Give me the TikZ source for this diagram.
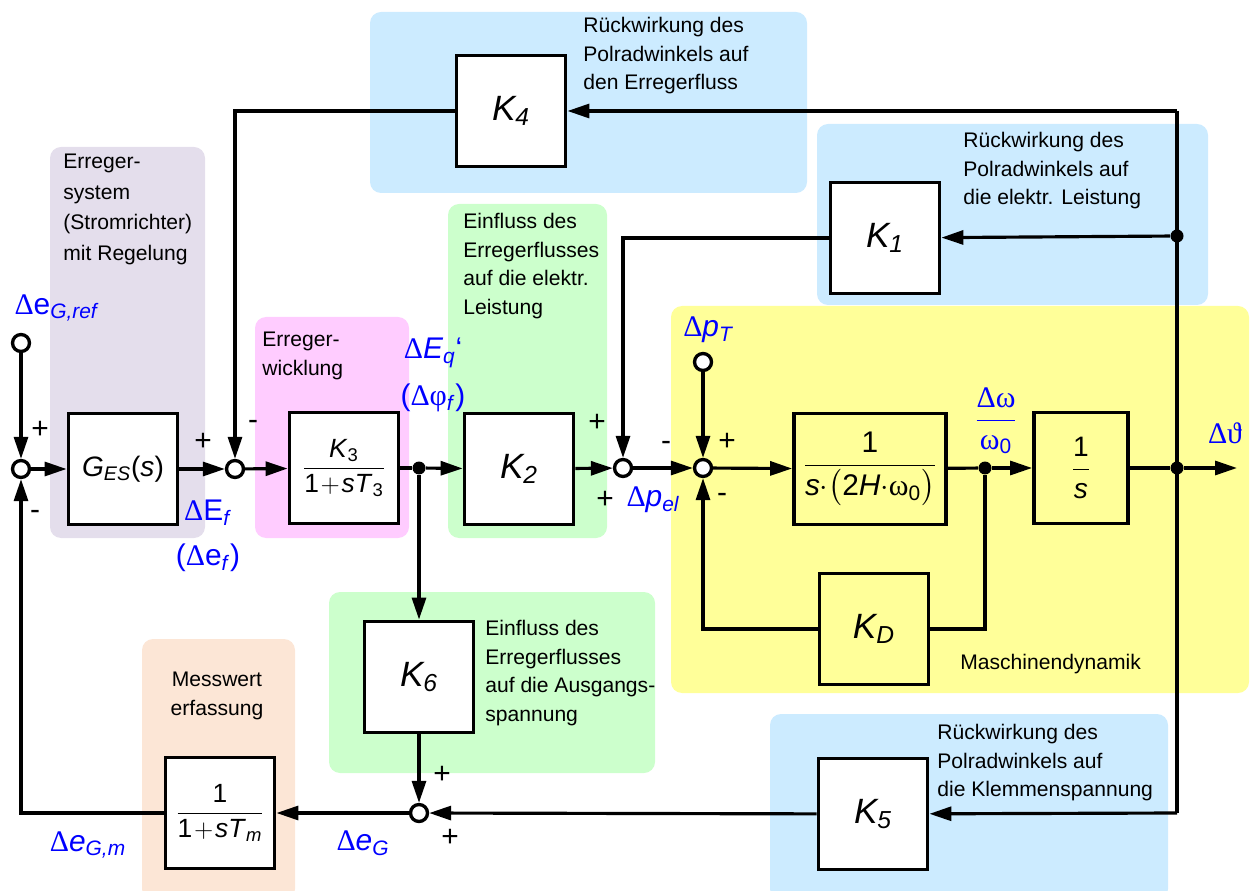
\documentclass[tikz,border=0pt]{standalone}
\usepackage{fontspec}
\setmainfont{Liberation Sans}
\newfontfamily\grk{Liberation Serif}
\usepackage{amsmath}
\usetikzlibrary{arrows.meta}

\definecolor{greybg}{RGB}{228,222,236}
\definecolor{pinkbg}{RGB}{255,204,255}
\definecolor{greenbg}{RGB}{204,255,204}
\definecolor{bluebg}{RGB}{204,235,255}
\definecolor{yellowbg}{RGB}{255,255,153}
\definecolor{peachbg}{RGB}{252,230,214}
\definecolor{sigblue}{RGB}{0,0,255}

\tikzstyle{block} = [
rectangle,
minimum width=2.18cm,
minimum height=2.22cm,
draw=black,
line width=2.2pt,
fill=white,
font=\fontsize{20}{24}\selectfont
]
\tikzstyle{sum} = [
circle,
minimum size=0.34cm,
inner sep=0pt,
draw=black,
line width=1.9pt,
fill=white
]
\tikzstyle{dot} = [
circle,
minimum size=0.26cm,
inner sep=0pt,
fill=black
]
\tikzstyle{arrow} = [
line width=1.8pt,
->,
>={Triangle[length=0.44cm,width=0.28cm]}
]
\tikzstyle{line} = [
line width=1.8pt
]
\tikzstyle{note} = [
align=left,
inner sep=0pt,
anchor=north west,
font=\fontsize{12}{16.2}\selectfont
]
\tikzstyle{signal} = [
text=sigblue,
inner sep=0pt,
font=\fontsize{17}{20}\selectfont
]
\tikzstyle{sign} = [
inner sep=0pt,
font=\fontsize{17}{20}\selectfont
]
\tikzstyle{area} = [
rounded corners=0.22cm
]

\begin{document}
\begin{tikzpicture}[
x=0.02cm,
y=-0.02cm
]
\useasboundingbox (0,0) rectangle (1250,891);

% Areas
\fill [area, greybg] (50,147) rectangle (205,538);
\fill [area, pinkbg] (255,317) rectangle (409,538);
\fill [area, greenbg] (448,204) rectangle (607,538);
\fill [area, bluebg] (370,12) rectangle (807,193);
\fill [area, bluebg] (817,124) rectangle (1208,305);
\fill [area, yellowbg] (671,306) rectangle (1249,693);
\fill [area, greenbg] (329,592) rectangle (655,773);
\fill [area, peachbg] (142,639) rectangle (295,900);
\fill [area, bluebg] (770,714) rectangle (1168,900);

% Nodes
\node (ref) [sum] at (21,343) {};
\node (s1) [sum] at (21,469) {};
\node (ges) [block, font=\fontsize{16}{19}\selectfont] at (123,469)
{\textit{G\textsubscript{ES}}(\textit{s})};
\node (s2) [sum] at (235,469) {};
\node (k3) [block, font=\fontsize{15}{18}\selectfont] at (344,468)
{$\displaystyle\frac{\mbox{\textit{K}\textsubscript{3}}}{\mbox{1\kern1pt$+$\kern1pt\textit{sT}\textsubscript{3}}}$};
\node (d1) [dot] at (419,468) {};
\node (k2) [block] at (519,469) {\textit{K\textsubscript{2}}};
\node (s3) [sum] at (623,468) {};
\node (pt) [sum] at (703,362) {};
\node (s4) [sum] at (703,468) {};
\node (swing) [block, fill=yellowbg, minimum width=3.04cm, font=\fontsize{17}{20}\selectfont] at (870,469)
{$\displaystyle\frac{\mbox{1}}{\mbox{\textit{s}$\cdot\bigl($2\textit{H}$\cdot${\grk ω}\textsubscript{0}$\bigr)$}}$};
\node (d2) [dot] at (985,468) {};
\node (integ) [block, fill=yellowbg, minimum width=1.88cm, font=\fontsize{16}{19}\selectfont] at (1081,468)
{$\displaystyle\frac{\mbox{1}}{\mbox{\textit{s}}}$};
\node (d3) [dot] at (1177,468) {};
\coordinate (out) at (1237,468);
\node (kd) [block, fill=yellowbg] at (874,629) {\textit{K\textsubscript{D}}};
\node (k4) [block] at (511,111) {\textit{K\textsubscript{4}}};
\node (k1) [block] at (885,238) {\textit{K\textsubscript{1}}};
\node (d4) [dot] at (1177,236) {};
\coordinate (top) at (1177,111);
\coordinate (bot) at (1177,813);
\node (k6) [block] at (419,677) {\textit{K\textsubscript{6}}};
\node (s5) [sum] at (419,813) {};
\node (k5) [block] at (873,814) {\textit{K\textsubscript{5}}};
\node (tm) [block, font=\fontsize{15}{18}\selectfont] at (220,813)
{$\displaystyle\frac{\mbox{1}}{\mbox{1\kern1pt$+$\kern1pt\textit{sT}\textsubscript{\textit{m}}}}$};

% Signals
\node (lref) [signal] at (57,308) {{\grk Δ}e\textsubscript{\textit{G,ref}}};
\node (lef) [signal] at (208,513) {{\grk Δ}E\textsubscript{\textit{f}}};
\node (lef2) [signal] at (208,558) {({\grk Δ}e\textsubscript{\textit{f}})};
\node (leq) [signal] at (433,353) {{\grk Δ}\textit{E\textsubscript{q}}‘};
\node (lphi) [signal] at (433,398) {({\grk Δφ}\textsubscript{\textit{f}})};
\node (lpel) [signal] at (653,500) {{\grk Δ}\textit{p\textsubscript{el}}};
\node (lpt) [signal] at (708,330) {{\grk Δ}\textit{p\textsubscript{T}}};
\node (lw) [signal] at (996,421)
{$\displaystyle\frac{\mbox{\grk Δω}}{\mbox{{\grk ω}\textsubscript{0}}}$};
\node (lth) [signal] at (1225,433) {{\grk Δϑ}};
\node (legm) [signal] at (88,845) {{\grk Δ}\textit{e\textsubscript{G,m}}};
\node (leg) [signal] at (363,843) {{\grk Δ}\textit{e\textsubscript{G}}};

% Signs
\node (p1) [sign] at (40,430) {+};
\node (m1) [sign] at (35,515) {-};
\node (p2) [sign] at (203,442) {+};
\node (m2) [sign] at (253,425) {-};
\node (p3) [sign] at (597,423) {+};
\node (p4) [sign] at (605,500) {+};
\node (m3) [sign] at (666,446) {-};
\node (p5) [sign] at (727,442) {+};
\node (m4) [sign] at (722,498) {-};
\node (p6) [sign] at (442,775) {+};
\node (p7) [sign] at (450,838) {+};

% Notes
\node (tsys) [note, font=\fontsize{12}{17.4}\selectfont] at (63,154) {Erreger-\\system\\(Stromrichter)\\mit Regelung};
\node (twick) [note] at (262,332) {Erreger-\\wicklung};
\node (teinf1) [note] at (463,213) {Einfluss des\\Erregerflusses\\auf die elektr.\\Leistung};
\node (trk4) [note] at (583,17) {Rückwirkung des\\Polradwinkels auf\\den Erregerfluss};
\node (trk1) [note] at (963,132) {Rückwirkung des\\Polradwinkels auf\\die elektr. Leistung};
\node (teinf2) [note] at (485,620) {Einfluss des\\Erregerflusses\\auf die Ausgangs-\\spannung};
\node (tmess) [note, align=center, anchor=north] at (217,672) {Messwert\\erfassung};
\node (trk5) [note] at (937,724) {Rückwirkung des\\Polradwinkels auf\\die Klemmenspannung};
\node (tmasch) [note] at (960,654) {Maschinendynamik};

% Arrows
\draw [arrow] (ref) -- (s1);
\draw [arrow] (s1) -- (ges);
\draw [arrow] (ges) -- (s2);
\draw [arrow] (s2) -- (k3);
\draw [line] (k3) -- (d1);
\draw [arrow] (d1) -- (k2);
\draw [arrow] (k2) -- (s3);
\draw [arrow] (s3) -- (s4);
\draw [arrow] (pt) -- (s4);
\draw [arrow] (s4) -- (swing);
\draw [line] (swing) -- (d2);
\draw [arrow] (d2) -- (integ);
\draw [line] (integ) -- (d3);
\draw [arrow] (d3) -- (out);
\draw [line] (d2) |- (kd);
\draw [arrow] (kd) -| (s4);
\draw [line] (top) -- (bot);
\draw [arrow] (top) -- (k4);
\draw [arrow] (d4) -- (k1);
\draw [arrow] (bot) -- (k5);
\draw [arrow] (k4) -| (s2);
\draw [arrow] (k1) -| (s3);
\draw [arrow] (d1) -- (k6);
\draw [arrow] (k6) -- (s5);
\draw [arrow] (k5) -- (s5);
\draw [arrow] (s5) -- (tm);
\draw [arrow] (tm) -| (s1);

\end{tikzpicture}
\end{document}
